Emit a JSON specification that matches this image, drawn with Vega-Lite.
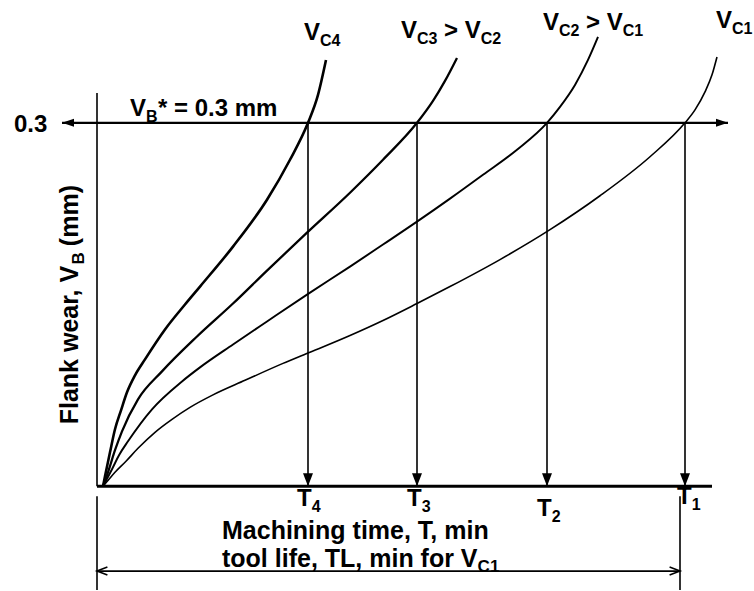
{
  "$schema": "https://vega.github.io/schema/vega-lite/v6.json",
  "width": 754,
  "height": 591,
  "padding": 0,
  "autosize": {"type": "fit", "contains": "padding"},
  "background": "white",
  "config": {
    "view": {"stroke": null},
    "text": {"font": "Liberation Sans", "fontWeight": "bold", "color": "black"}
  },
  "datasets": {
    "curves": [
      {"series": "VC4", "t": 0.3, "w": 0},
      {"series": "VC4", "t": 0.5, "w": 0.0082},
      {"series": "VC4", "t": 1.0, "w": 0.028},
      {"series": "VC4", "t": 1.5, "w": 0.047},
      {"series": "VC4", "t": 2.1, "w": 0.0626},
      {"series": "VC4", "t": 2.7, "w": 0.0775},
      {"series": "VC4", "t": 3.5, "w": 0.0915},
      {"series": "VC4", "t": 4.5, "w": 0.1047},
      {"series": "VC4", "t": 6.5, "w": 0.1294},
      {"series": "VC4", "t": 8.5, "w": 0.15},
      {"series": "VC4", "t": 10.0, "w": 0.1648},
      {"series": "VC4", "t": 13.3, "w": 0.1978},
      {"series": "VC4", "t": 16.7, "w": 0.2365},
      {"series": "VC4", "t": 19.0, "w": 0.2695},
      {"series": "VC4", "t": 20.8, "w": 0.3},
      {"series": "VC4", "t": 21.8, "w": 0.3231},
      {"series": "VC4", "t": 22.6, "w": 0.3519},
      {"series": "VC3", "t": 0.3, "w": 0},
      {"series": "VC3", "t": 0.8, "w": 0.0115},
      {"series": "VC3", "t": 1.5, "w": 0.0297},
      {"series": "VC3", "t": 2.2, "w": 0.0453},
      {"series": "VC3", "t": 3.8, "w": 0.0717},
      {"series": "VC3", "t": 6.2, "w": 0.0948},
      {"series": "VC3", "t": 9.7, "w": 0.1236},
      {"series": "VC3", "t": 13.3, "w": 0.1508},
      {"series": "VC3", "t": 16.7, "w": 0.178},
      {"series": "VC3", "t": 20.7, "w": 0.2093},
      {"series": "VC3", "t": 25.0, "w": 0.2423},
      {"series": "VC3", "t": 28.3, "w": 0.2695},
      {"series": "VC3", "t": 31.7, "w": 0.3},
      {"series": "VC3", "t": 33.3, "w": 0.3181},
      {"series": "VC3", "t": 34.5, "w": 0.3346},
      {"series": "VC3", "t": 35.7, "w": 0.3536},
      {"series": "VC2", "t": 0.3, "w": 0},
      {"series": "VC2", "t": 1.2, "w": 0.014},
      {"series": "VC2", "t": 1.9, "w": 0.0256},
      {"series": "VC2", "t": 2.8, "w": 0.0371},
      {"series": "VC2", "t": 5.2, "w": 0.0635},
      {"series": "VC2", "t": 8.2, "w": 0.0865},
      {"series": "VC2", "t": 10.0, "w": 0.0981},
      {"series": "VC2", "t": 13.3, "w": 0.117},
      {"series": "VC2", "t": 16.7, "w": 0.136},
      {"series": "VC2", "t": 20.7, "w": 0.1582},
      {"series": "VC2", "t": 25.0, "w": 0.1813},
      {"series": "VC2", "t": 28.3, "w": 0.1995},
      {"series": "VC2", "t": 31.7, "w": 0.2184},
      {"series": "VC2", "t": 35.0, "w": 0.2374},
      {"series": "VC2", "t": 38.3, "w": 0.2571},
      {"series": "VC2", "t": 41.7, "w": 0.2778},
      {"series": "VC2", "t": 44.7, "w": 0.3},
      {"series": "VC2", "t": 46.0, "w": 0.3132},
      {"series": "VC2", "t": 47.5, "w": 0.3313},
      {"series": "VC2", "t": 48.8, "w": 0.3519},
      {"series": "VC2", "t": 49.8, "w": 0.3709},
      {"series": "VC1", "t": 0.3, "w": 0},
      {"series": "VC1", "t": 0.9, "w": 0.0058},
      {"series": "VC1", "t": 1.5, "w": 0.0115},
      {"series": "VC1", "t": 2.6, "w": 0.0206},
      {"series": "VC1", "t": 3.8, "w": 0.0313},
      {"series": "VC1", "t": 5.5, "w": 0.0445},
      {"series": "VC1", "t": 7.2, "w": 0.0552},
      {"series": "VC1", "t": 9.0, "w": 0.0651},
      {"series": "VC1", "t": 11.2, "w": 0.075},
      {"series": "VC1", "t": 14.5, "w": 0.0874},
      {"series": "VC1", "t": 18.3, "w": 0.1014},
      {"series": "VC1", "t": 20.8, "w": 0.1099},
      {"series": "VC1", "t": 25.0, "w": 0.1244},
      {"series": "VC1", "t": 28.3, "w": 0.1368},
      {"series": "VC1", "t": 31.7, "w": 0.1508},
      {"series": "VC1", "t": 35.0, "w": 0.1648},
      {"series": "VC1", "t": 40.0, "w": 0.1871},
      {"series": "VC1", "t": 45.0, "w": 0.2118},
      {"series": "VC1", "t": 50.0, "w": 0.2398},
      {"series": "VC1", "t": 55.0, "w": 0.272},
      {"series": "VC1", "t": 58.5, "w": 0.3},
      {"series": "VC1", "t": 59.5, "w": 0.3107},
      {"series": "VC1", "t": 60.5, "w": 0.3256},
      {"series": "VC1", "t": 61.2, "w": 0.3396},
      {"series": "VC1", "t": 61.7, "w": 0.3544}
    ],
    "guides": [
      {"name": "limit", "t": -3.8, "t2": 62.8, "w": 0.3, "w2": 0.3},
      {"name": "timeAxis", "t": -0.3, "t2": 61.2, "w": 0, "w2": 0},
      {"name": "wearAxis", "t": -0.3, "t2": -0.3, "w": 0.3247, "w2": 0},
      {"name": "toolLife", "t": -0.3, "t2": 58.0, "w": -0.0701, "w2": -0.0701},
      {"name": "toolLifeStart", "t": -0.3, "t2": -0.3, "w": -0.0082, "w2": -0.0857},
      {"name": "toolLifeEnd", "t": 58.0, "t2": 58.0, "w": -0.0082, "w2": -0.0857},
      {"name": "T4", "t": 20.8, "t2": 20.8, "w": 0.3, "w2": 0},
      {"name": "T3", "t": 31.7, "t2": 31.7, "w": 0.3, "w2": 0},
      {"name": "T2", "t": 44.7, "t2": 44.7, "w": 0.3, "w2": 0},
      {"name": "T1", "t": 58.5, "t2": 58.5, "w": 0.3, "w2": 0}
    ],
    "arrows": [
      {"t": 20.8, "w": 0, "dir": "down"},
      {"t": 31.7, "w": 0, "dir": "down"},
      {"t": 44.7, "w": 0, "dir": "down"},
      {"t": 58.5, "w": 0, "dir": "down"},
      {"t": -3.8, "w": 0.3, "dir": "left"},
      {"t": 62.8, "w": 0.3, "dir": "right"},
      {"t": -0.3, "w": -0.0701, "dir": "openLeft"},
      {"t": 58.0, "w": -0.0701, "dir": "openRight"}
    ],
    "mainText": [
      {"t": -8.6, "w": 0.2925, "text": "0.3"},
      {"t": 3.0, "w": 0.3058, "text": "V"},
      {"t": 5.8, "w": 0.3058, "text": "* = 0.3 mm"},
      {"t": 20.4, "w": 0.3684, "text": "V"},
      {"t": 30.1, "w": 0.3701, "text": "V"},
      {"t": 34.41, "w": 0.3701, "text": "> V"},
      {"t": 44.3, "w": 0.3767, "text": "V"},
      {"t": 48.61, "w": 0.3767, "text": "> V"},
      {"t": 61.6, "w": 0.3783, "text": "V"},
      {"t": 19.7, "w": -0.0165, "text": "T"},
      {"t": 30.7, "w": -0.0165, "text": "T"},
      {"t": 43.7, "w": -0.0247, "text": "T"},
      {"t": 57.7, "w": -0.0148, "text": "T"}
    ],
    "subText": [
      {"t": 4.6, "w": 0.3058, "text": "B"},
      {"t": 22.0, "w": 0.3684, "text": "C4"},
      {"t": 31.7, "w": 0.3701, "text": "C3"},
      {"t": 38.08, "w": 0.3701, "text": "C2"},
      {"t": 45.9, "w": 0.3767, "text": "C2"},
      {"t": 52.28, "w": 0.3767, "text": "C1"},
      {"t": 63.2, "w": 0.3783, "text": "C1"},
      {"t": 21.17, "w": -0.0165, "text": "4"},
      {"t": 32.17, "w": -0.0165, "text": "3"},
      {"t": 45.17, "w": -0.0247, "text": "2"},
      {"t": 59.17, "w": -0.0148, "text": "1"}
    ],
    "titleText": [
      {"t": 12.2, "w": -0.0437, "text": "Machining time, T, min"},
      {"t": 12.2, "w": -0.0668, "text": "tool life, TL, min for V"}
    ],
    "titleSub": [
      {"t": 37.76, "w": -0.0668, "text": "C1"}
    ],
    "verticalText": [
      {"t": -2.2, "w": 0.0511, "text": "Flank wear, V"},
      {"t": -2.2, "w": 0.1982, "text": "(mm)"}
    ],
    "verticalSub": [
      {"t": -2.2, "w": 0.183, "text": "B"}
    ]
  },
  "encoding": {
    "x": {"field": "t", "type": "quantitative", "axis": null, "scale": {"domain": [-10, 65.4], "nice": false, "zero": false}},
    "y": {"field": "w", "type": "quantitative", "axis": null, "scale": {"domain": [-0.0857, 0.4014], "nice": false, "zero": false}}
  },
  "layer": [
    {
      "data": {"name": "guides"},
      "transform": [{"filter": "datum.name !== 'limit' && datum.name !== 'timeAxis'"}],
      "mark": {"type": "rule", "color": "black", "strokeWidth": 1.6},
      "encoding": {"x2": {"field": "t2"}, "y2": {"field": "w2"}}
    },
    {
      "data": {"name": "guides"},
      "transform": [{"filter": "datum.name === 'limit'"}],
      "mark": {"type": "rule", "color": "black", "strokeWidth": 2.2},
      "encoding": {"x2": {"field": "t2"}, "y2": {"field": "w2"}}
    },
    {
      "data": {"name": "guides"},
      "transform": [{"filter": "datum.name === 'timeAxis'"}],
      "mark": {"type": "rule", "color": "black", "strokeWidth": 3},
      "encoding": {"x2": {"field": "t2"}, "y2": {"field": "w2"}}
    },
    {
      "data": {"name": "curves"},
      "mark": {"type": "line", "color": "black", "interpolate": "monotone"},
      "encoding": {
        "detail": {"field": "series"},
        "strokeWidth": {"field": "series", "type": "ordinal", "scale": {"domain": ["VC4", "VC3", "VC2", "VC1"], "range": [2.6, 1.6, 1.6, 1.6]}, "legend": null}
      }
    },
    {
      "data": {"name": "arrows"},
      "transform": [{"filter": "datum.dir === 'down' || datum.dir === 'left' || datum.dir === 'right'"}],
      "mark": {"type": "point", "filled": true, "color": "black", "opacity": 1, "size": 100},
      "encoding": {
        "shape": {"field": "dir", "type": "nominal", "legend": null, "scale": {"domain": ["down", "left", "right", "openLeft", "openRight"], "range": ["M-1,-2.6L1,-2.6L0,0Z", "M0,0L2.4,-0.8L2.4,0.8Z", "M0,0L-2.4,-0.8L-2.4,0.8Z", "M2.6,-1L0,0L2.6,1", "M-2.6,-1L0,0L-2.6,1"]}}
      }
    },
    {
      "data": {"name": "arrows"},
      "transform": [{"filter": "datum.dir === 'openLeft' || datum.dir === 'openRight'"}],
      "mark": {"type": "point", "filled": false, "color": "black", "opacity": 1, "size": 64, "strokeWidth": 1.6},
      "encoding": {
        "shape": {"field": "dir", "type": "nominal", "legend": null, "scale": {"domain": ["down", "left", "right", "openLeft", "openRight"], "range": ["M-1,-2.6L1,-2.6L0,0Z", "M0,0L2.4,-0.8L2.4,0.8Z", "M0,0L-2.4,-0.8L-2.4,0.8Z", "M2.6,-1L0,0L2.6,1", "M-2.6,-1L0,0L-2.6,1"]}}
      }
    },
    {
      "data": {"name": "mainText"},
      "mark": {"type": "text", "align": "left", "baseline": "alphabetic", "fontSize": 24},
      "encoding": {"text": {"field": "text"}}
    },
    {
      "data": {"name": "subText"},
      "mark": {"type": "text", "align": "left", "baseline": "alphabetic", "fontSize": 16, "dy": 6},
      "encoding": {"text": {"field": "text"}}
    },
    {
      "data": {"name": "titleText"},
      "mark": {"type": "text", "align": "left", "baseline": "alphabetic", "fontSize": 25},
      "encoding": {"text": {"field": "text"}}
    },
    {
      "data": {"name": "titleSub"},
      "mark": {"type": "text", "align": "left", "baseline": "alphabetic", "fontSize": 17, "dy": 5},
      "encoding": {"text": {"field": "text"}}
    },
    {
      "data": {"name": "verticalText"},
      "mark": {"type": "text", "align": "left", "baseline": "alphabetic", "fontSize": 25, "angle": 270},
      "encoding": {"text": {"field": "text"}}
    },
    {
      "data": {"name": "verticalSub"},
      "mark": {"type": "text", "align": "left", "baseline": "alphabetic", "fontSize": 17, "angle": 270, "dy": 6},
      "encoding": {"text": {"field": "text"}}
    }
  ]
}
